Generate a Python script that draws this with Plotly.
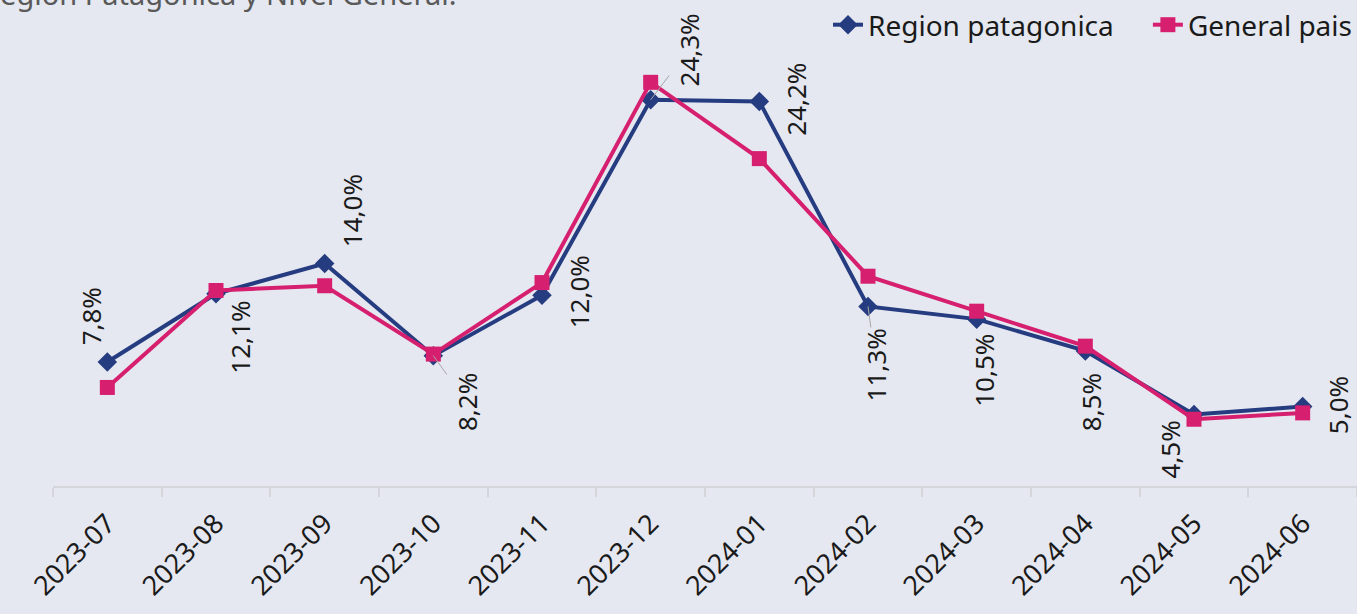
import plotly.graph_objects as go

PALETTE = {
    'navy': '#263c80',
    'magenta': '#d6206f',
    'bg': '#e5e8f0',
    'axis': '#d4d6dc',
    'leader': '#a6a6a6',
}
FONT = 'Noto Sans'

meses = ['2023-07', '2023-08', '2023-09', '2023-10', '2023-11', '2023-12',
         '2024-01', '2024-02', '2024-03', '2024-04', '2024-05', '2024-06']
region_patagonica = [7.8, 12.1, 14.0, 8.2, 12.0, 24.3, 24.2, 11.3, 10.5, 8.5, 4.5, 5.0]
general_pais = [6.2, 12.3, 12.6, 8.3, 12.8, 25.4, 20.6, 13.2, 11.0, 8.8, 4.2, 4.6]

# desplazamiento (px) de cada etiqueta respecto a su punto; 'leader' = linea guia
label_pos = [
    dict(dx=-16, dy=46), dict(dx=24, dy=-44), dict(dx=27, dy=53),
    dict(dx=33, dy=-46, leader=True), dict(dx=37, dy=3),
    dict(dx=38, dy=50, leader=True), dict(dx=37, dy=2),
    dict(dx=8, dy=-59, leader=True), dict(dx=7, dy=-51), dict(dx=6, dy=-51),
    dict(dx=-24, dy=-35), dict(dx=35, dy=1),
]

fig = go.Figure()
fig.add_trace(go.Scatter(x=meses, y=region_patagonica, mode='lines+markers',
                         name='Region patagonica' + '\u00a0' * 4,
                         line=dict(color=PALETTE['navy'], width=4),
                         marker=dict(symbol='diamond', size=15, color=PALETTE['navy'])))
fig.add_trace(go.Scatter(x=meses, y=general_pais, mode='lines+markers',
                         name='General pais',
                         line=dict(color=PALETTE['magenta'], width=4),
                         marker=dict(symbol='square', size=15, color=PALETTE['magenta'])))

for mes, v, p in zip(meses, region_patagonica, label_pos):
    txt = f'{v:.1f}'.replace('.', ',') + '%'
    if p.get('leader'):
        fig.add_annotation(x=mes, y=v, text=txt, textangle=-90,
                           showarrow=True, arrowhead=0, arrowwidth=1,
                           arrowcolor=PALETTE['leader'],
                           ax=p['dx'], ay=-p['dy'],
                           font=dict(family=FONT, size=26, color='#1a1a1a'))
    else:
        fig.add_annotation(x=mes, y=v, text=txt, textangle=-90,
                           showarrow=False, xshift=p['dx'], yshift=p['dy'],
                           font=dict(family=FONT, size=26, color='#1a1a1a'))

# titulo (cortado en el borde superior como en el original)
fig.add_annotation(xref='paper', yref='paper', x=-0.056, y=1.058,
                   xanchor='left', yanchor='bottom', showarrow=False,
                   text='Region Patagonica y Nivel General.',
                   font=dict(family=FONT, size=29, color='#595959'))

fig.update_layout(width=1357, height=614,
                  margin=dict(t=40, b=128, l=53, r=0),
                  plot_bgcolor=PALETTE['bg'], paper_bgcolor=PALETTE['bg'],
                  font=dict(family=FONT, size=22, color='#1a1a1a'),
                  legend=dict(orientation='h', xanchor='right', x=1.0,
                              yanchor='middle', y=1.035,
                              bgcolor='rgba(0,0,0,0)',
                              font=dict(family=FONT, size=28, color='#1a1a1a')),
                  showlegend=True)
fig.update_xaxes(type='category', range=[-0.5, 11.5], showgrid=False,
                 showline=True, linecolor=PALETTE['axis'], linewidth=2,
                 ticks='outside', tickson='boundaries', ticklen=9,
                 tickcolor=PALETTE['axis'], tickwidth=2, tickangle=-45,
                 ticklabelstandoff=9,
                 tickfont=dict(family=FONT, size=27, color='#1a1a1a'))
fig.update_yaxes(range=[0, 28], visible=False)

fig.write_html('out.html', config={'displayModeBar': False},
               post_script="document.body.style.margin='0';")
